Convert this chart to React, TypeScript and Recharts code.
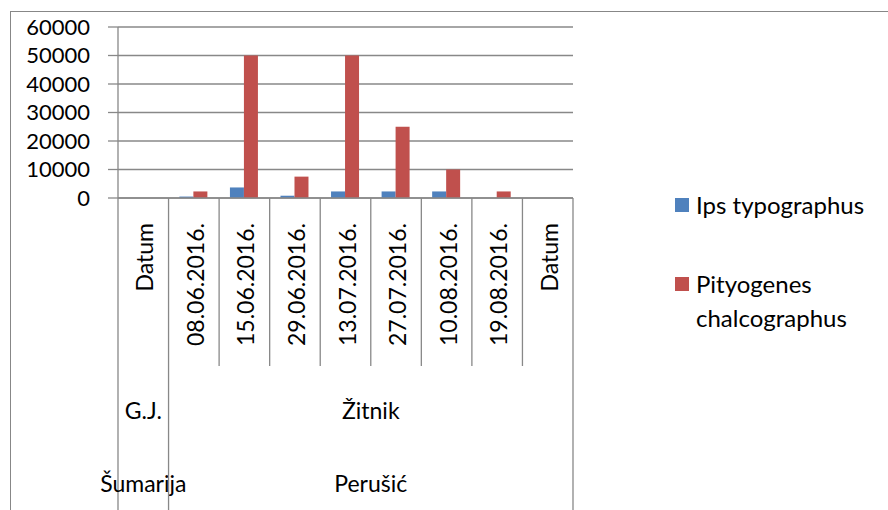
import { Bar, BarChart, CartesianGrid, Legend, XAxis, YAxis } from "recharts"

const categories = [
  "Datum",
  "08.06.2016.",
  "15.06.2016.",
  "29.06.2016.",
  "13.07.2016.",
  "27.07.2016.",
  "10.08.2016.",
  "19.08.2016.",
  "Datum",
]
const ipsTypographus = [null, 500, 3700, 800, 2300, 2300, 2300, null, null]
const pityogenesChalcographus = [null, 2300, 50000, 7500, 50000, 25000, 10000, 2300, null]
const yTicks = [0, 10000, 20000, 30000, 40000, 50000, 60000]

// second and third level of the category axis (start index + number of categories)
const unitGroups = [
  { label: "G.J.", start: 0, span: 1 },
  { label: "Žitnik", start: 1, span: 8 },
]
const forestryGroups = [
  { label: "Šumarija", start: 0, span: 1 },
  { label: "Perušić", start: 1, span: 8 },
]

const seriesNames = ["Ips typographus", "Pityogenes chalcographus"]
const BLUE = "#4F81BD"
const RED = "#C0504D"
const GRID = "#888888"

const data = categories.map((name, i) => ({
  name,
  ips: ipsTypographus[i],
  pity: pityogenesChalcographus[i],
}))

function CategoryTick(props: any) {
  const { x, y, payload } = props
  const index: number = payload.index
  const half: number = payload.offset ?? 455 / 18
  const band = half * 2
  const left = x - half
  const right = x + half
  const last = index === categories.length - 1
  const isBoundary = (i: number) => i === 0 || unitGroups.some((g) => g.start === i)

  const unit = unitGroups.find((g) => g.start === index)
  const forestry = forestryGroups.find((g) => g.start === index)
  const labelTop = y + 25

  return (
    <g>
      <line x1={left} x2={left} y1={y} y2={isBoundary(index) ? 512 : y + 168} stroke={GRID} strokeWidth={1.3} />
      {last && <line x1={right} x2={right} y1={y} y2={512} stroke={GRID} strokeWidth={1.3} />}
      <text
        x={x + 1}
        y={labelTop}
        transform={`rotate(-90, ${x + 1}, ${labelTop})`}
        textAnchor="end"
        dominantBaseline="central"
        fontSize={23}
        fill="#000"
      >
        {payload.value}
      </text>
      {unit && (
        <text x={left + (unit.span * band) / 2} y={y + 212} textAnchor="middle" dominantBaseline="central" fontSize={23} fill="#000">
          {unit.label}
        </text>
      )}
      {forestry && (
        <text x={left + (forestry.span * band) / 2} y={y + 285} textAnchor="middle" dominantBaseline="central" fontSize={23} fill="#000">
          {forestry.label}
        </text>
      )}
    </g>
  )
}

function LegendBox() {
  const colors = [BLUE, RED]
  return (
    <div style={{ fontFamily: "Lato", fontSize: 24, lineHeight: "34px", color: "#000", width: 205 }}>
      {seriesNames.map((name, i) => (
        <div key={name} style={{ display: "flex", alignItems: "flex-start", marginBottom: i === 0 ? 45 : 0 }}>
          <span style={{ width: 14, height: 14, background: colors[i], marginTop: 10, marginRight: 7, flex: "none" }} />
          <span style={{ width: 180 }}>{name}</span>
        </div>
      ))}
    </div>
  )
}

export default function App() {
  return (
    <div style={{ position: "absolute", left: 0, top: 0, width: 888, height: 510, background: "#fff", fontFamily: "Lato" }}>
      <div
        style={{
          position: "absolute",
          left: 9.5,
          top: 10.5,
          width: 880,
          height: 502,
          borderTop: "1.5px solid #878787",
          borderLeft: "1.5px solid #878787",
        }}
      />
      <BarChart
        width={888}
        height={510}
        data={data}
        margin={{ top: 27, right: 315, bottom: 0, left: 0 }}
        barCategoryGap="21.4%"
        barGap={0}
      >
        <CartesianGrid vertical={false} stroke={GRID} strokeWidth={1.3} />
        <YAxis
          domain={[0, 60000]}
          ticks={yTicks}
          interval={0}
          width={118}
          tickSize={10}
          tickMargin={18}
          tick={{ fill: "#000", fontSize: 22 }}
          tickLine={{ stroke: GRID, strokeWidth: 1.3 }}
          axisLine={{ stroke: GRID, strokeWidth: 1.3 }}
        />
        <XAxis
          dataKey="name"
          height={312}
          interval={0}
          tickSize={0}
          tickMargin={0}
          tickLine={false}
          axisLine={{ stroke: GRID, strokeWidth: 1.3 }}
          tick={<CategoryTick />}
        />
        <Legend
          layout="horizontal"
          verticalAlign="middle"
          align="center"
          wrapperStyle={{ left: 675, top: 188, width: 210 }}
          content={() => <LegendBox />}
        />
        <Bar dataKey="ips" name={seriesNames[0]} fill={BLUE} isAnimationActive={false} />
        <Bar dataKey="pity" name={seriesNames[1]} fill={RED} isAnimationActive={false} />
      </BarChart>
    </div>
  )
}
